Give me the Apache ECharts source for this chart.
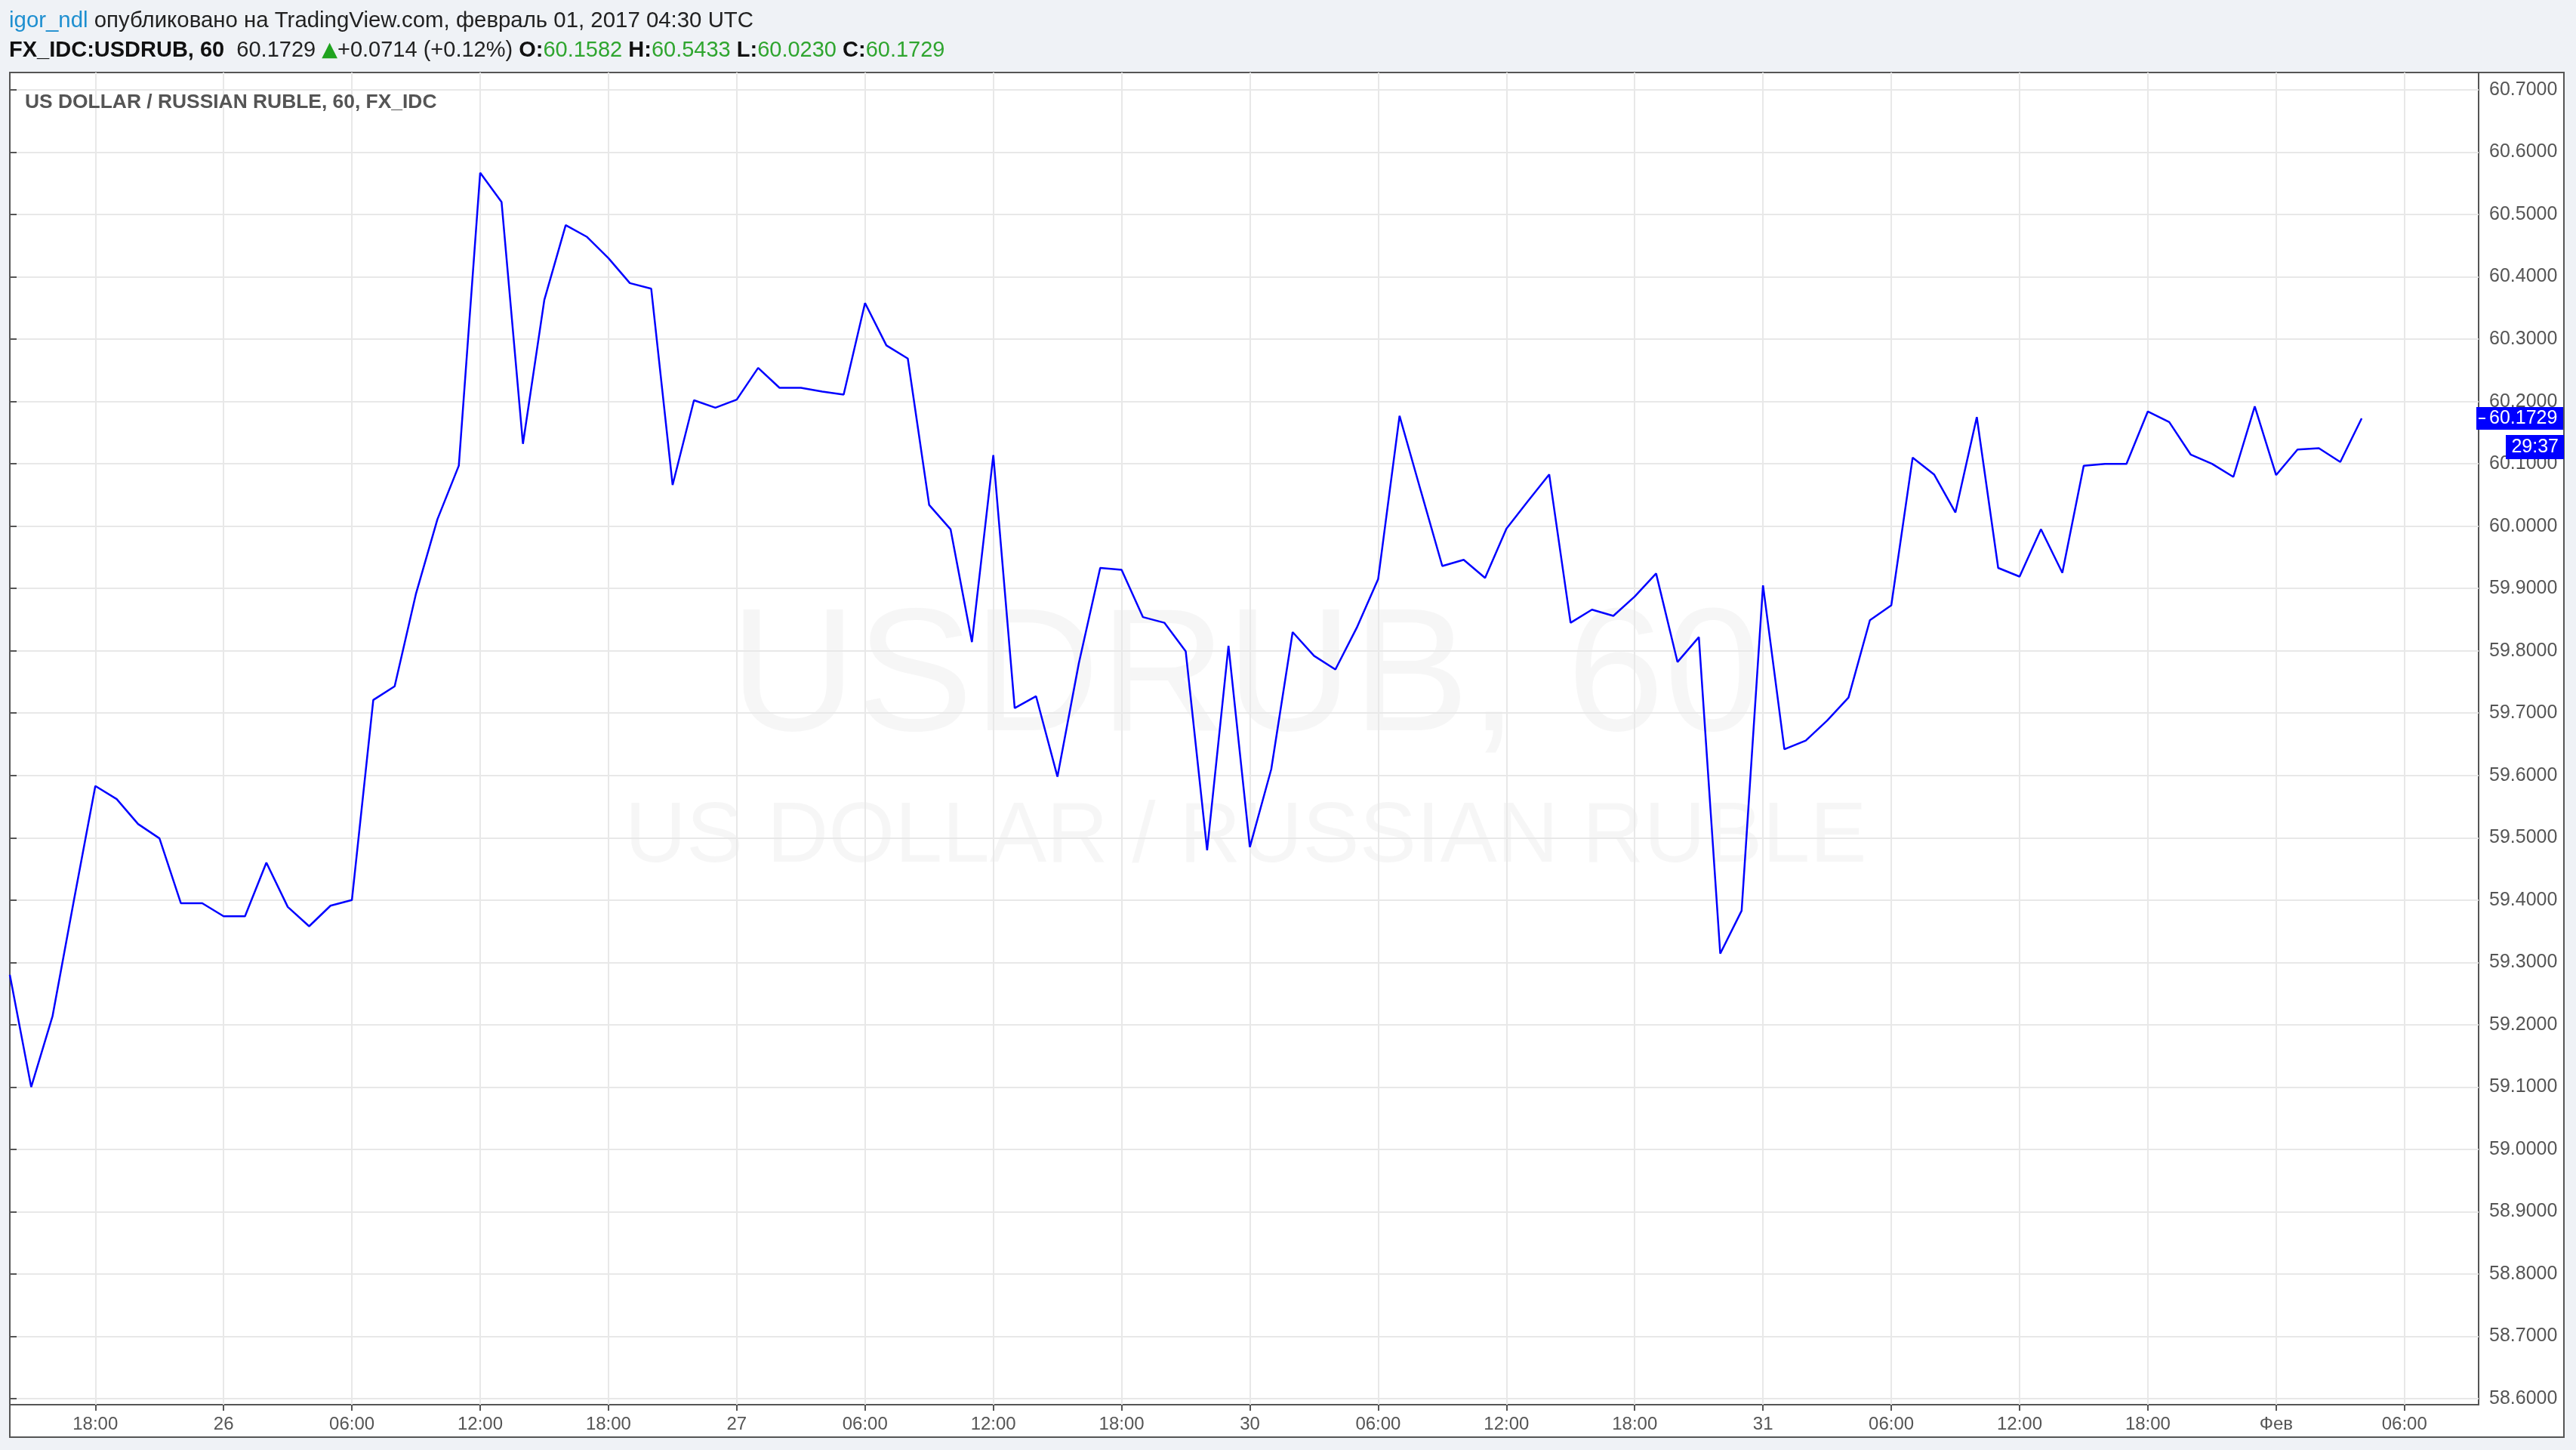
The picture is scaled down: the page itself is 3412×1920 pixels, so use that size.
<!DOCTYPE html>
<html>
<head>
<meta charset="utf-8">
<script src="https://cdn.jsdelivr.net/npm/echarts@6/dist/echarts.min.js"></script>
<style>
html,body{margin:0;padding:0;background:#eff2f6;}
#c{width:3412px;height:1920px;}
</style>
</head>
<body>
<div id="c"></div>
<script>
// ---- data (hourly closes, Jan 25 14:00 → Feb 1 04:00 UTC, weekend skipped) ----
const values = [
  59.28, 59.10, 59.214, 59.40, 59.583, 59.562, 59.522, 59.499, 59.395, 59.395,
  59.374, 59.374, 59.46, 59.389, 59.358, 59.391, 59.40, 59.721, 59.743, 59.892,
  60.011, 60.097, 60.567, 60.52, 60.132, 60.363, 60.483, 60.464, 60.43, 60.39,
  60.381, 60.066, 60.202, 60.19, 60.203, 60.254, 60.222, 60.222, 60.216, 60.211,
  60.358, 60.29, 60.269, 60.034, 59.995, 59.814, 60.114, 59.708, 59.727, 59.598,
  59.78, 59.933, 59.93, 59.854, 59.845, 59.799, 59.48, 59.808, 59.485, 59.61,
  59.83, 59.792, 59.77, 59.837, 59.915, 60.177, 60.056, 59.936, 59.946, 59.917,
  59.996, 60.04, 60.083, 59.845, 59.866, 59.856, 59.887, 59.924, 59.782, 59.822,
  59.314, 59.383, 59.905, 59.642, 59.656, 59.688, 59.725, 59.849, 59.873, 60.11,
  60.083, 60.022, 60.175, 59.933, 59.919, 59.995, 59.925, 60.097, 60.10, 60.10,
  60.184, 60.167, 60.115, 60.10, 60.079, 60.192, 60.082, 60.123, 60.125, 60.103,
  60.1729
];
const xTickIndex  = [4, 10, 16, 22, 28, 34, 40, 46, 52, 58, 64, 70, 76, 82, 88, 94, 100, 106, 112];
const xTickLabels = ['18:00','26','06:00','12:00','18:00','27','06:00','12:00','18:00','30',
                     '06:00','12:00','18:00','31','06:00','12:00','18:00','Фев','06:00'];
const yTicks = [58.6, 58.7, 58.8, 58.9, 59.0, 59.1, 59.2, 59.3, 59.4, 59.5, 59.6,
                59.7, 59.8, 59.9, 60.0, 60.1, 60.2, 60.3, 60.4, 60.5, 60.6, 60.7];
const lastPrice = 60.1729;
const countdown = '29:37';
const author = 'igor_ndl';
const publishedText = ' опубликовано на TradingView.com, февраль 01, 2017 04:30 UTC';
const symbolText = 'FX_IDC:USDRUB, 60';
const changeText = '+0.0714 (+0.12%)';
const ohlcNames = ['O:', 'H:', 'L:', 'C:'];
const ohlcValues = ['60.1582', '60.5433', '60.0230', '60.1729'];
const legendTitle = 'US DOLLAR / RUSSIAN RUBLE, 60, FX_IDC';
const watermark1 = 'USDRUB, 60';
const watermark2 = 'US DOLLAR / RUSSIAN RUBLE';

// ---- layout ----
const X0 = 13, Y0 = 96, XR = 3283, YB = 1860, OXR = 3396, OYB = 1903;
const xMin = 0, xMax = 115.47;
const yMin = 58.5903, yMax = 60.7279;
const labelMap = {};
xTickIndex.forEach((v, i) => labelMap[v] = xTickLabels[i]);

const chart = echarts.init(document.getElementById('c'), null, {renderer: 'canvas'});
const AXIS_FONT = '"Liberation Sans", Arial, sans-serif';

chart.setOption({
  animation: false,
  backgroundColor: 'transparent',
  grid: {
    left: X0, top: Y0, width: XR - X0, height: YB - Y0,
    show: true, borderColor: '#555', borderWidth: 2, backgroundColor: 'transparent',
    containLabel: false, outerBoundsMode: 'none'
  },
  xAxis: {
    type: 'value', min: xMin, max: xMax,
    axisLine: {show: false},
    axisTick: {show: true, customValues: xTickIndex, length: 8, lineStyle: {color: '#555', width: 2}},
    axisLabel: {
      customValues: xTickIndex, color: '#555', fontSize: 24, fontFamily: AXIS_FONT, margin: 14,
      formatter: v => labelMap[Math.round(v)] || ''
    },
    splitLine: {show: true, lineStyle: {color: '#e8e8e8', width: 2}}
  },
  yAxis: {
    type: 'value', position: 'right', min: yMin, max: yMax, scale: true,
    axisLine: {show: false},
    axisTick: {show: true, customValues: yTicks, length: 9, lineStyle: {color: '#555', width: 2}},
    axisLabel: {
      customValues: yTicks, color: '#555', fontSize: 25, fontFamily: AXIS_FONT, margin: 14,
      formatter: v => Number(v).toFixed(4)
    },
    splitLine: {show: true, lineStyle: {color: '#e8e8e8', width: 2}}
  },
  series: [{
    type: 'line', data: values.map((v, i) => [i, v]), symbol: 'none', clip: true,
    lineStyle: {color: '#0000ff', width: 2.5}, z: 5
  }]
});

const py = chart.convertToPixel({yAxisIndex: 0}, lastPrice);
const HFONT = '"Liberation Sans", Arial, sans-serif';
const graphics = [
  // white chart box with outer frame
  {type: 'rect', z: -20, shape: {x: X0, y: Y0, width: OXR - X0, height: OYB - Y0},
   style: {fill: '#ffffff', stroke: '#555', lineWidth: 2}},
  // watermark
  {type: 'text', z: -10, x: 1650, y: 903,
   style: {text: watermark1, fill: 'rgba(0,0,0,0.035)', font: '232px "Liberation Sans", Arial, sans-serif',
           align: 'center', verticalAlign: 'middle'}},
  {type: 'text', z: -10, x: 1650, y: 1110,
   style: {text: watermark2, fill: 'rgba(0,0,0,0.035)', font: '113px "Liberation Sans", Arial, sans-serif',
           align: 'center', verticalAlign: 'middle'}},
  // legend title
  {type: 'text', z: 20, x: 33, y: 136,
   style: {text: legendTitle, fill: '#555', font: 'bold 26.4px "Liberation Sans", Arial, sans-serif',
           align: 'left', verticalAlign: 'middle'}},
  // header line 1
  {type: 'text', z: 20, x: 12, y: 28,
   style: {
     text: '{u|' + author + '}{t|' + publishedText + '}',
     align: 'left', verticalAlign: 'middle',
     rich: {
       u: {fill: '#1e8fd0', fontSize: 29.4, fontFamily: HFONT},
       t: {fill: '#222', fontSize: 29.4, fontFamily: HFONT}
     }
   }},
  // header line 2
  {type: 'text', z: 20, x: 12, y: 67,
   style: {
     text: '{b|' + symbolText + '}{n|  ' + lastPrice.toFixed(4) + ' }{g|▲}{n|' + changeText + ' }' +
           ohlcNames.map((n, i) => '{b|' + (i ? ' ' : '') + n + '}{v|' + ohlcValues[i] + '}').join(''),
     align: 'left', verticalAlign: 'middle',
     rich: {
       b: {fill: '#111', fontSize: 29, fontWeight: 'bold', fontFamily: HFONT},
       n: {fill: '#222', fontSize: 29, fontFamily: HFONT},
       g: {fill: '#1fa31f', fontSize: 27, fontFamily: '"DejaVu Sans", sans-serif'},
       v: {fill: '#2fa52f', fontSize: 29, fontFamily: HFONT}
     }
   }},
  // clip price labels below pane
  {type: 'rect', z: 50, shape: {x: XR + 2, y: YB + 1, width: OXR - XR - 3, height: OYB - YB - 2},
   style: {fill: '#ffffff'}},
  // last price box
  {type: 'rect', z: 60, shape: {x: XR - 3, y: py - 15, width: OXR - XR + 2, height: 30},
   style: {fill: '#0000ff'}},
  {type: 'line', z: 61, shape: {x1: XR, y1: py, x2: XR + 9, y2: py},
   style: {stroke: '#ffffff', lineWidth: 2}},
  {type: 'text', z: 62, x: XR + 14, y: py,
   style: {text: lastPrice.toFixed(4), fill: '#ffffff', font: '25px "Liberation Sans", Arial, sans-serif',
           align: 'left', verticalAlign: 'middle'}},
  // countdown box
  {type: 'rect', z: 60, shape: {x: 3319, y: py + 22, width: OXR - 3319, height: 32},
   style: {fill: '#0000ff'}},
  {type: 'text', z: 62, x: OXR - 7, y: py + 38,
   style: {text: countdown, fill: '#ffffff', font: '25px "Liberation Sans", Arial, sans-serif',
           align: 'right', verticalAlign: 'middle'}}
];
chart.setOption({graphic: graphics});
</script>
</body>
</html>
